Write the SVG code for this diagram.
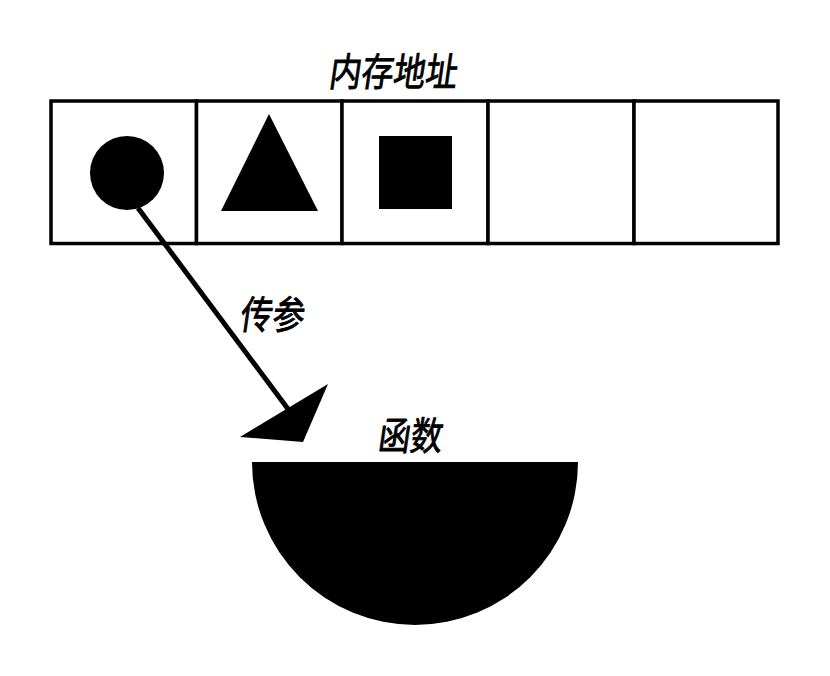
<svg xmlns="http://www.w3.org/2000/svg" width="830" height="676" viewBox="0 0 830 676">
<style>
.cell{fill:#fff;stroke:#000;stroke-width:3.5}
.lbl{font-family:"Noto Sans CJK SC","Noto Sans",sans-serif;font-size:39px;font-weight:normal;fill:#000;stroke:#000;stroke-width:0.9;text-anchor:middle}
</style>
<rect width="830" height="676" fill="#fff"/>
<g id="title"><text class="lbl" transform="translate(392,86) scale(0.82,1) skewX(-10)">内存地址</text></g>
<g id="memory">
<rect class="cell" x="51" y="101" width="145.5" height="142.5"/>
<rect class="cell" x="196.5" y="101" width="145.5" height="142.5"/>
<rect class="cell" x="342" y="101" width="146" height="142.5"/>
<rect class="cell" x="488" y="101" width="146" height="142.5"/>
<rect class="cell" x="634" y="101" width="144" height="142.5"/>
</g>
<g id="circle"><circle cx="127" cy="173" r="37"/></g>
<g id="triangle"><polygon points="269,114 318,211 221,211"/></g>
<g id="square"><rect x="379" y="136" width="73" height="73"/></g>
<g id="connectors">
<line x1="138" y1="208" x2="291" y2="413" stroke="#000" stroke-width="5"/>
<polygon points="328,384 240,437 303,442"/>
<text class="lbl" transform="translate(271,329) scale(0.82,1) skewX(-10)">传参</text>
</g>
<g id="function">
<text class="lbl" transform="translate(409,450) scale(0.82,1) skewX(-10)">函数</text>
<path d="M252,462 H578 A163,163 0 0 1 252,462 Z"/>
</g>
</svg>
